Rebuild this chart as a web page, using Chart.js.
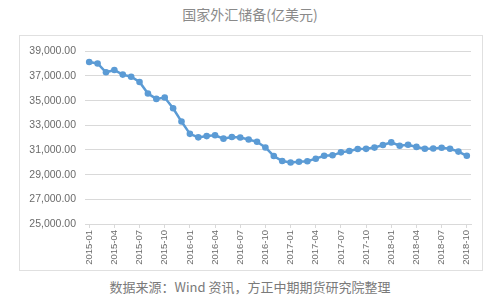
<!DOCTYPE html>
<html>
<head>
<meta charset="utf-8">
<script src="https://cdn.jsdelivr.net/npm/chart.js@4"></script>
<style>
  body { margin: 0; background: #fff; width: 500px; height: 298px; position: relative; overflow: hidden; }
  #title { position: absolute; left: 0; top: 4px; width: 500px; text-align: center;
    font-family: "Noto Sans CJK SC", sans-serif; font-size: 14px; color: #8a8a8a; }
  #box { position: absolute; left: 19px; top: 35px; width: 462px; height: 234px;
    border: 1px solid #e0e0e0; }
  #source { position: absolute; left: 0; top: 277px; width: 500px; text-align: center;
    font-family: "Noto Sans CJK SC", sans-serif; font-size: 13px; color: #7a7a7a; }
</style>
</head>
<body>
<div id="title">国家外汇储备(亿美元)</div>
<div id="box"><canvas id="myChart" width="462" height="234"></canvas></div>
<div id="source">数据来源：Wind 资讯，方正中期期货研究院整理</div>
<script>
// meses 2015-01 .. 2018-10
let meses = [
  "2015-01", "2015-02", "2015-03", "2015-04", "2015-05", "2015-06",
  "2015-07", "2015-08", "2015-09", "2015-10", "2015-11", "2015-12",
  "2016-01", "2016-02", "2016-03", "2016-04", "2016-05", "2016-06",
  "2016-07", "2016-08", "2016-09", "2016-10", "2016-11", "2016-12",
  "2017-01", "2017-02", "2017-03", "2017-04", "2017-05", "2017-06",
  "2017-07", "2017-08", "2017-09", "2017-10", "2017-11", "2017-12",
  "2018-01", "2018-02", "2018-03", "2018-04", "2018-05", "2018-06",
  "2018-07", "2018-08", "2018-09", "2018-10",
];

// reservas (亿美元)
let reservas = [
  38134, 38015, 37300, 37481, 37111, 36939,
  36513, 35574, 35141, 35255, 34383, 33304,
  32309, 32023, 32126, 32197, 31917, 32052,
  32011, 31851, 31664, 31206, 30516, 30105,
  29982, 30051, 30091, 30295, 30535, 30568,
  30807, 30915, 31085, 31093, 31193, 31399,
  31615, 31345, 31428, 31249, 31106, 31121,
  31179, 31097, 30870, 30531,
];

let yMin = 25000;
let yMax = 39000;
let yPaso = 2000;

let azul = "#5B9BD5";
let gris = "#d9d9d9";
let texto = "#6b6b6b";

let data = {
  labels: meses,
  datasets: [
    {
      label: "国家外汇储备",
      data: reservas,
      borderColor: azul,
      backgroundColor: azul,
      borderWidth: 2.5,
      pointRadius: 3.3,
      pointBorderWidth: 0,
      tension: 0,
    },
  ],
};

let config = {
  type: "line",
  data: data,
  options: {
    responsive: false,
    animation: false,
    layout: { padding: { top: 11, right: 11, left: 0, bottom: 0 } },
    plugins: {
      legend: { display: false },
      tooltip: { enabled: false },
    },
    scales: {
      x: {
        offset: true,
        grid: {
          drawOnChartArea: false,
          tickLength: 4,
          color: function (ctx) {
            return ctx.index % 3 == 0 ? gris : "rgba(0,0,0,0)";
          },
        },
        border: { color: gris },
        ticks: {
          autoSkip: false,
          maxRotation: 90,
          minRotation: 90,
          color: texto,
          font: { family: "Liberation Sans", size: 9.5 },
          padding: 2,
          callback: function (v, i) {
            return i % 3 == 0 ? meses[i] : "";
          },
        },
        afterFit: function (s) {
          s.height = 46;
        },
      },
      y: {
        min: yMin,
        max: yMax,
        ticks: {
          stepSize: yPaso,
          color: texto,
          font: { family: "Liberation Sans", size: 10.5 },
          padding: 9,
          callback: function (v) {
            return v.toLocaleString("en-US", { minimumFractionDigits: 2 });
          },
        },
        grid: { color: gris, drawTicks: false },
        border: { display: false },
        afterFit: function (s) {
          s.width = 65;
        },
      },
    },
  },
};

var myChart = new Chart(document.getElementById("myChart"), config);
</script>
</body>
</html>
